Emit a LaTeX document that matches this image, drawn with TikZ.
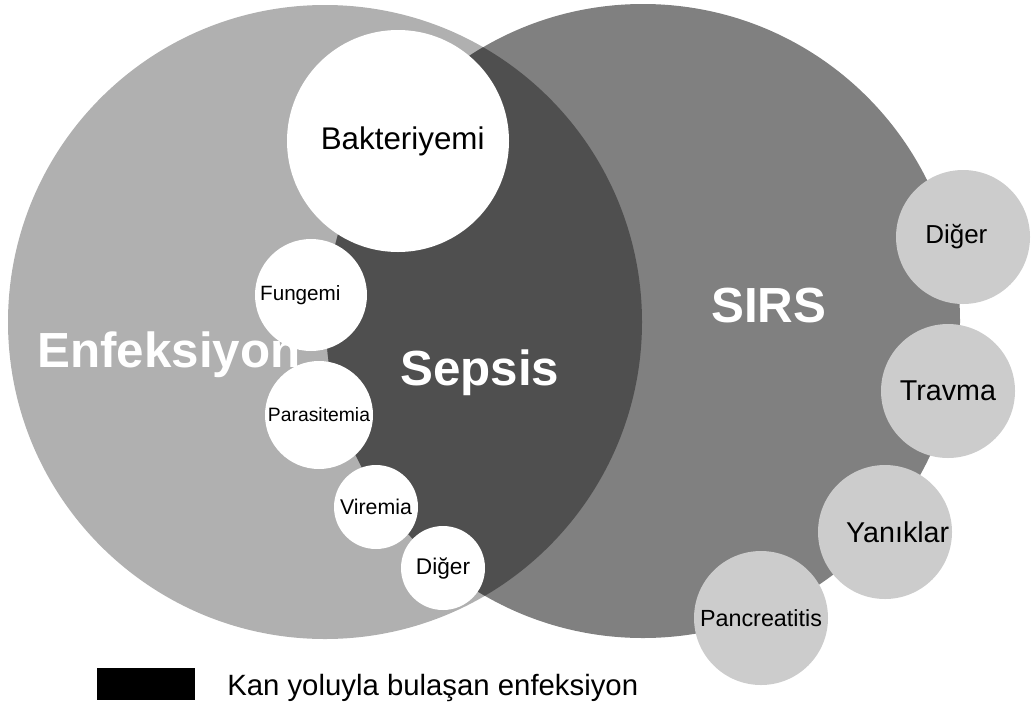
\documentclass[tikz,border=0pt]{standalone}
\usepackage{fontspec}
\setmainfont{Liberation Sans}
\definecolor{enfgray}{HTML}{B0B0B0}
\definecolor{sirsgray}{HTML}{808080}
\definecolor{sepgray}{HTML}{4F4F4F}
\definecolor{causegray}{HTML}{CCCCCC}
\newcommand{\fs}[1]{\fontsize{#1}{#1}\selectfont}
\tikzset{
  blood/.style={circle, fill=white, inner sep=0pt},
  cause/.style={circle, fill=causegray, inner sep=0pt, minimum size=100.5pt},
  bigword/.style={text=white, inner sep=0pt, font=\fs{37}\bfseries}
}

\begin{document}
\begin{tikzpicture}[x=0.75pt,y=-0.75pt]
\useasboundingbox (0,0) rectangle (1031,704);
% the two sets
\fill[enfgray] (325,322) circle (317);
\fill[sirsgray] (643,321) circle (317);
\begin{scope}
\clip (325,322) circle (317);
\fill[sepgray] (643,321) circle (317);
\end{scope}
\node[bigword, anchor=base west] (enf) at (37,367) {Enfeksiyon};
\node[bigword, anchor=base west] (sepsis) at (400,385) {Sepsis};
\node[bigword, anchor=base west] (sirs) at (711,322) {SIRS};
% blood-borne infections
\node[blood, minimum size=166.5pt, font=\fs{23.5}] (bakt) at (398,141) {\hspace*{7pt}Bakteriyemi};
\node[blood, minimum size=84pt, font=\fs{15.5}] (fung) at (311,295) {Fungemi\hspace*{16pt}};
\node[blood, minimum size=81pt, font=\fs{14.5}] (para) at (319,415) {Parasitemia};
\node[blood, minimum size=63pt, font=\fs{16}] (vir) at (376,507) {Viremia};
\node[blood, minimum size=63pt, font=\fs{17}] (digl) at (443,568) {Diğer};
% other causes of SIRS
\node[cause, font=\fs{19.5}] (digr) at (963,237) {Diğer\hspace*{10pt}};
\node[cause, font=\fs{21.5}] (trav) at (948,391) {Travma};
\node[cause, font=\fs{21.5}] (yan) at (885,532) {\hspace*{19pt}Yanıklar};
\node[cause, font=\fs{17.5}] (panc) at (761,618) {Pancreatitis};
% legend
\node[fill=black, inner sep=0pt, minimum width=73.5pt, minimum height=24pt] (key) at (146,684) {};
\node[anchor=base west, inner sep=0pt, font=\fs{22}] (keytext) at (227,695) {Kan yoluyla bulaşan enfeksiyon};
\end{tikzpicture}
\end{document}
